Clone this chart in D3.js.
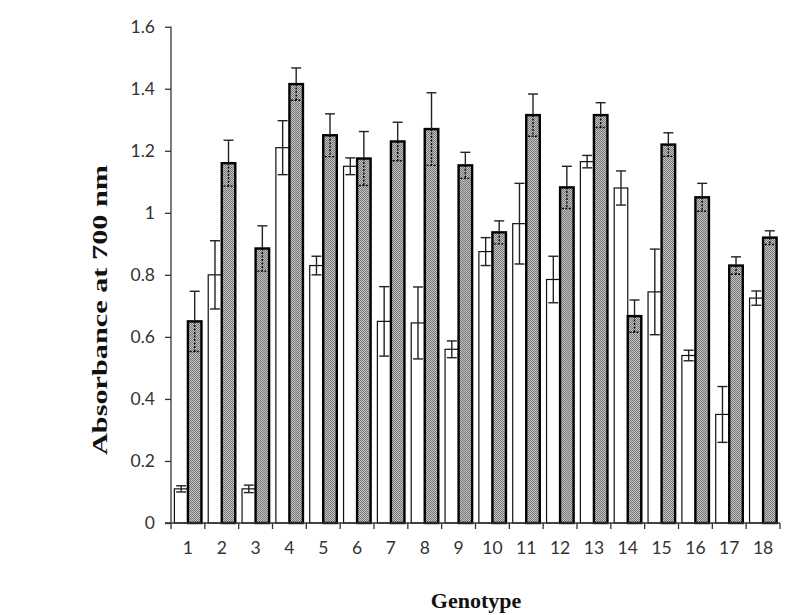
<!DOCTYPE html>
<html>
<head>
<meta charset="utf-8">
<script src="https://cdn.jsdelivr.net/npm/d3@7"></script>
<style>
  html, body { margin: 0; padding: 0; background: #fff; }
  svg { display: block; }
</style>
</head>
<body>
<script>
// ---- data ----
const genotypes = ["1","2","3","4","5","6","7","8","9","10","11","12","13","14","15","16","17","18"];
const whiteValues = [0.11, 0.80, 0.11, 1.21, 0.83, 1.15, 0.65, 0.645, 0.56, 0.875, 0.965, 0.785, 1.165, 1.08, 0.745, 0.54, 0.35, 0.725];
const whiteErrors = [0.01, 0.11, 0.012, 0.087, 0.03, 0.027, 0.112, 0.116, 0.027, 0.045, 0.13, 0.075, 0.02, 0.055, 0.138, 0.017, 0.09, 0.023];
const grayValues  = [0.65, 1.16, 0.885, 1.415, 1.25, 1.175, 1.23, 1.27, 1.153, 0.937, 1.315, 1.082, 1.315, 0.667, 1.22, 1.05, 0.83, 0.92];
const grayErrors  = [0.097, 0.074, 0.073, 0.052, 0.069, 0.087, 0.062, 0.117, 0.042, 0.037, 0.068, 0.068, 0.04, 0.052, 0.038, 0.045, 0.028, 0.022];
const yTicks = [0, 0.2, 0.4, 0.6, 0.8, 1, 1.2, 1.4, 1.6];
const yTitle = "Absorbance at 700 nm";
const xTitle = "Genotype";

const W = 792, H = 615;
const svg = d3.select("body").append("svg").attr("width", W).attr("height", H);

// pattern for the dark bars
const defs = svg.append("defs");
const pat = defs.append("pattern").attr("id", "dots").attr("patternUnits", "userSpaceOnUse")
  .attr("width", 2).attr("height", 2);
pat.append("rect").attr("width", 2).attr("height", 2).attr("fill", "#c4c4c4");
pat.append("rect").attr("x", 0).attr("y", 0).attr("width", 1).attr("height", 1).attr("fill", "#767676");
pat.append("rect").attr("x", 1).attr("y", 1).attr("width", 1).attr("height", 1).attr("fill", "#767676");

const x0 = 171, x1 = 780, y0 = 523, y1 = 26.7;
const x = d3.scaleBand().domain(genotypes).range([x0, x1]).padding(0);
const y = d3.scaleLinear().domain([0, 1.6]).range([y0, y1]);
const bw = x.bandwidth() * 0.4;

const g = svg.append("g");

// white bars
g.selectAll(".wbar").data(genotypes).enter().append("rect")
  .attr("class", "wbar")
  .attr("x", (d) => x(d) + x.bandwidth() / 2 - bw)
  .attr("y", (d, i) => y(whiteValues[i]))
  .attr("width", bw)
  .attr("height", (d, i) => y0 - y(whiteValues[i]))
  .attr("fill", "#fff").attr("stroke", "#111").attr("stroke-width", 1.2);

// gray bars
g.selectAll(".gbar").data(genotypes).enter().append("rect")
  .attr("class", "gbar")
  .attr("x", (d) => x(d) + x.bandwidth() / 2)
  .attr("y", (d, i) => y(grayValues[i]))
  .attr("width", bw)
  .attr("height", (d, i) => y0 - y(grayValues[i]))
  .attr("fill", "url(#dots)").attr("stroke", "#000").attr("stroke-width", 2.4);

// error bars
const cap = 5;
function errBar(cx, v, e, lowerDashed) {
  const gg = g.append("g").attr("stroke", "#222").attr("stroke-width", 1.4);
  gg.append("line").attr("x1", cx).attr("x2", cx).attr("y1", y(v)).attr("y2", y(v + e));
  gg.append("line").attr("x1", cx - cap).attr("x2", cx + cap).attr("y1", y(v + e)).attr("y2", y(v + e));
  const low = gg.append("g");
  if (lowerDashed) low.attr("stroke-dasharray", "2,1.5").attr("stroke", "#000");
  low.append("line").attr("x1", cx).attr("x2", cx).attr("y1", y(v)).attr("y2", y(v - e));
  low.append("line").attr("x1", cx - cap).attr("x2", cx + cap).attr("y1", y(v - e)).attr("y2", y(v - e));
}
genotypes.forEach((d, i) => {
  const c = x(d) + x.bandwidth() / 2;
  errBar(c - bw / 2, whiteValues[i], whiteErrors[i], false);
  errBar(c + bw / 2, grayValues[i], grayErrors[i], true);
});

// y axis
const yAxis = d3.axisLeft(y).tickValues(yTicks).tickSize(6).tickPadding(10)
  .tickFormat((d) => d3.format("")(+d.toFixed(1)));
const ya = svg.append("g").attr("transform", `translate(${x0},0)`).call(yAxis);
ya.select(".domain").attr("stroke", "#333").attr("stroke-width", 1.3).attr("d", `M0,${y0}V${y1}`);
ya.selectAll(".tick line").attr("stroke", "#333").attr("stroke-width", 1.3);
ya.selectAll(".tick text").attr("font-family", "Lato, 'Open Sans', sans-serif")
  .attr("font-size", 17.5).attr("fill", "#333");

// x axis
const xa = svg.append("g").attr("transform", `translate(0,${y0})`);
xa.append("line").attr("x1", x0 - 6).attr("x2", x1).attr("y1", 0).attr("y2", 0)
  .attr("stroke", "#333").attr("stroke-width", 1.3);
const boundaries = genotypes.map((d) => x(d)).concat([x1]);
xa.selectAll(".bt").data(boundaries).enter().append("line")
  .attr("x1", (d) => d).attr("x2", (d) => d).attr("y1", 0).attr("y2", 6)
  .attr("stroke", "#333").attr("stroke-width", 1.3);
xa.selectAll(".xl").data(genotypes).enter().append("text")
  .attr("x", (d) => x(d) + x.bandwidth() / 2).attr("y", 31)
  .attr("text-anchor", "middle")
  .attr("font-family", "Lato, 'Open Sans', sans-serif").attr("font-size", 17.5).attr("fill", "#333")
  .text((d) => d);

// titles
svg.append("text").attr("transform", "translate(107,310) rotate(-90)")
  .attr("text-anchor", "middle")
  .attr("font-family", "'Liberation Serif', 'Times New Roman', serif")
  .attr("font-weight", "bold").attr("font-size", 22).attr("fill", "#111")
  .attr("textLength", 290).attr("lengthAdjust", "spacingAndGlyphs")
  .text(yTitle);
svg.append("text").attr("x", 476).attr("y", 608)
  .attr("text-anchor", "middle")
  .attr("font-family", "'Liberation Serif', 'Times New Roman', serif")
  .attr("font-weight", "bold").attr("font-size", 22).attr("fill", "#111")
  .text(xTitle);
</script>
</body>
</html>
